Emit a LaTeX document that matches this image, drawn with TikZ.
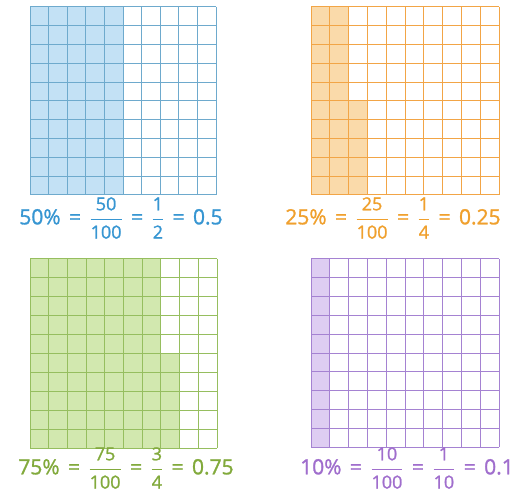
\documentclass[tikz,border=0pt]{standalone}
\usepackage{fontspec}
\setmainfont[FakeBold=1.2]{Open Sans}
\usepackage{amsmath}
\definecolor{bline}{RGB}{110,170,205}
\definecolor{bfill}{RGB}{195,225,245}
\definecolor{btext}{RGB}{55,150,210}
\definecolor{oline}{RGB}{242,165,70}
\definecolor{ofill}{RGB}{250,218,170}
\definecolor{otext}{RGB}{240,160,45}
\definecolor{gline}{RGB}{150,190,95}
\definecolor{gfill}{RGB}{210,232,175}
\definecolor{gtext}{RGB}{130,170,60}
\definecolor{pline}{RGB}{165,130,210}
\definecolor{pfill}{RGB}{222,205,242}
\definecolor{ptext}{RGB}{160,110,205}
\newcommand\myfr[2]{$\dfrac{\mbox{\fontsize{18}{19}\selectfont #1}}{\mbox{\fontsize{18}{19}\selectfont #2}}$}
\newcommand\myeq{\hspace{0.4em}=\hspace{0.4em}}
\tikzset{
  gridline/.style={line width=1pt},
  lab/.style={font=\fontsize{21}{23}\selectfont, inner sep=0pt, anchor=center}
}
\begin{document}
\begin{tikzpicture}[x=1pt,y=-1pt]
\useasboundingbox[fill=white] (0,0) rectangle (524,502);
% blue 50%
\fill[bfill] (30,7) rectangle (30+5*18.6,7+10*18.8);
\foreach \i in {0,...,10}{
  \draw[gridline,bline] (30+\i*18.6,7) -- (30+\i*18.6,195);
  \draw[gridline,bline] (30,7+\i*18.8) -- (216,7+\i*18.8);}
% orange 25%
\fill[ofill] (311,7) rectangle (311+2*18.8,195);
\fill[ofill] (311+2*18.8,7+5*18.8) rectangle (311+3*18.8,195);
\foreach \i in {0,...,10}{
  \draw[gridline,oline] (311+\i*18.8,7) -- (311+\i*18.8,195);
  \draw[gridline,oline] (311,7+\i*18.8) -- (499,7+\i*18.8);}
% green 75%
\fill[gfill] (30,259) rectangle (30+7*18.7,448);
\fill[gfill] (30+7*18.7,259+5*18.9) rectangle (30+8*18.7,448);
\foreach \i in {0,...,10}{
  \draw[gridline,gline] (30+\i*18.7,259) -- (30+\i*18.7,448);
  \draw[gridline,gline] (30,259+\i*18.9) -- (217,259+\i*18.9);}
% purple 10%
\fill[pfill] (311,259) rectangle (311+18.8,447);
\foreach \i in {0,...,10}{
  \draw[gridline,pline] (311+\i*18.8,259) -- (311+\i*18.8,447);
  \draw[gridline,pline] (311,259+\i*18.8) -- (499,259+\i*18.8);}
% labels
\node[lab,text=btext] (l50) at (121,218) {50\%\myeq\myfr{50}{100}\myeq\myfr{1}{2}\myeq0.5};
\node[lab,text=otext] (l25) at (393,218) {25\%\myeq\myfr{25}{100}\myeq\myfr{1}{4}\myeq0.25};
\node[lab,text=gtext] (l75) at (126,468) {75\%\myeq\myfr{75}{100}\myeq\myfr{3}{4}\myeq0.75};
\node[lab,text=ptext] (l10) at (407,468) {10\%\myeq\myfr{10}{100}\myeq\myfr{1}{10}\myeq0.1};
\end{tikzpicture}
\end{document}
